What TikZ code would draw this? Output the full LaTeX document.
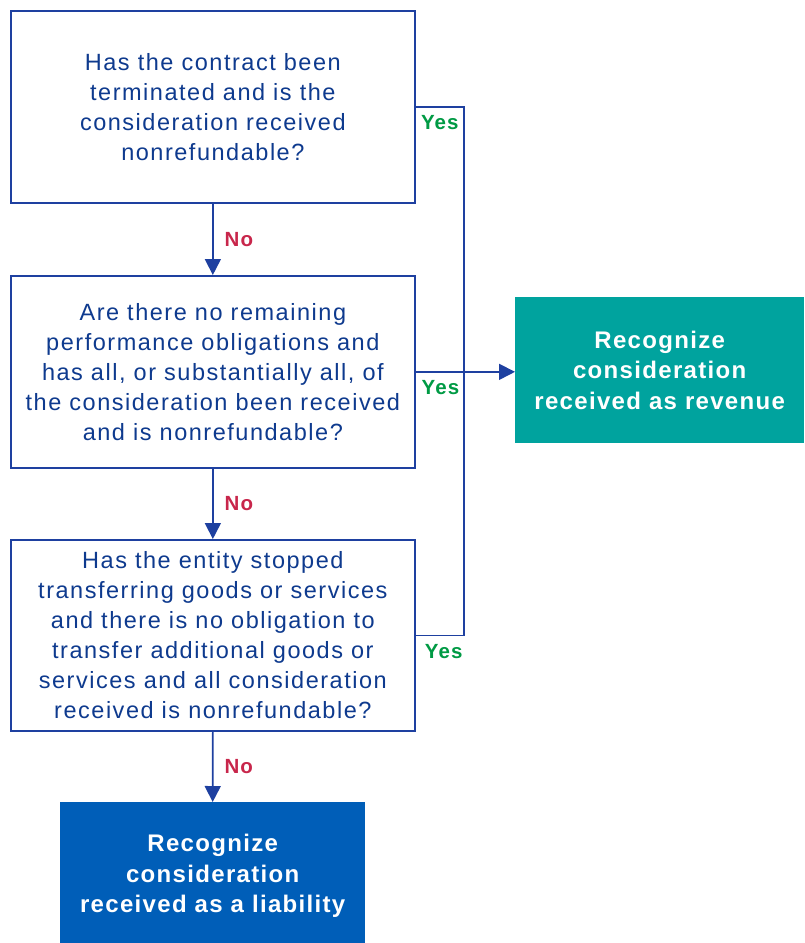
\documentclass[tikz,border=0pt]{standalone}
\usepackage{fontspec}
\setmainfont{Liberation Sans}[LetterSpace=6.5]
\newfontfamily\lblfont{Liberation Sans}[LetterSpace=5.5]
\usetikzlibrary{arrows.meta}
\definecolor{navy}{HTML}{0E3A8E}
\definecolor{edge}{HTML}{1E40A0}
\definecolor{tealbox}{HTML}{00A39E}
\definecolor{bluebox}{HTML}{005EB8}
\definecolor{noclr}{HTML}{C8264B}
\definecolor{yesclr}{HTML}{009A44}
\begin{document}
\begin{tikzpicture}[x=1pt,y=-1pt,
  qbox/.style={draw=edge, line width=1.7pt, fill=white, minimum width=404pt,
    minimum height=192pt, inner sep=0pt, align=center, text=navy,
    font=\fontsize{23.5}{30}\selectfont, anchor=north west},
  rbox/.style={inner sep=0pt, align=center, text=white, anchor=north west,
    font=\lblfont\bfseries\fontsize{24}{30.5}\selectfont},
  rtext/.style={inner sep=0pt, align=center, text=white,
    font=\lblfont\bfseries\fontsize{24}{30.5}\selectfont},
  conn/.style={draw=edge, line width=1.7pt},
  arr/.style={conn, -{Triangle[length=16pt,width=16pt]}},
  nolbl/.style={text=noclr, font=\lblfont\bfseries\fontsize{20.5}{24}\selectfont, inner sep=0pt},
  yeslbl/.style={text=yesclr, font=\lblfont\bfseries\fontsize{20.5}{24}\selectfont, inner sep=0pt}
]
\path[use as bounding box] (0,0) rectangle (804,943);

\node[qbox] (q1) at (10,10) {Has the contract been\\terminated and is the\\consideration received\\nonrefundable?};
\node[qbox] (q2) at (10,275) {Are there no remaining\\performance obligations and\\has all, or substantially all, of\\the consideration been received\\and is nonrefundable?};
\node[qbox, minimum height=191pt] (q3) at (10,539) {Has the entity stopped\\transferring goods or services\\and there is no obligation to\\transfer additional goods or\\services and all consideration\\received is nonrefundable?};

\node[rbox, fill=tealbox, minimum width=289pt, minimum height=146pt] (rev) at (515,297) {Recognize\\consideration\\received as revenue};
\node[rbox, fill=bluebox, minimum width=305pt, minimum height=141pt] (lia) at (60,802) {};
\node[rtext, yshift=-3.5pt] (liatext) at (lia.center) {Recognize\\consideration\\received as a liability};

\coordinate (xr) at (464,0);

\draw[arr] (q1.south) -- (q2.north) node[nolbl, midway, xshift=26pt] (no1) {No};
\draw[arr] (q2.south) -- (q3.north) node[nolbl, midway, xshift=26pt] (no2) {No};
\draw[arr] (q3.south) -- (lia.north) node[nolbl, midway, xshift=26pt] (no3) {No};

\draw[conn] (q1.east) -- node[yeslbl, pos=0.5, yshift=-16pt] (yes1) {Yes} (q1.east -| xr)
  -- (q3.east -| xr) -- node[yeslbl, pos=0.42, yshift=-16pt] (yes3) {Yes} (q3.east);
\draw[arr] (q2.east) -- node[yeslbl, pos=0.25, yshift=-16pt] (yes2) {Yes} (q2.east -| rev.west);
\end{tikzpicture}
\end{document}
